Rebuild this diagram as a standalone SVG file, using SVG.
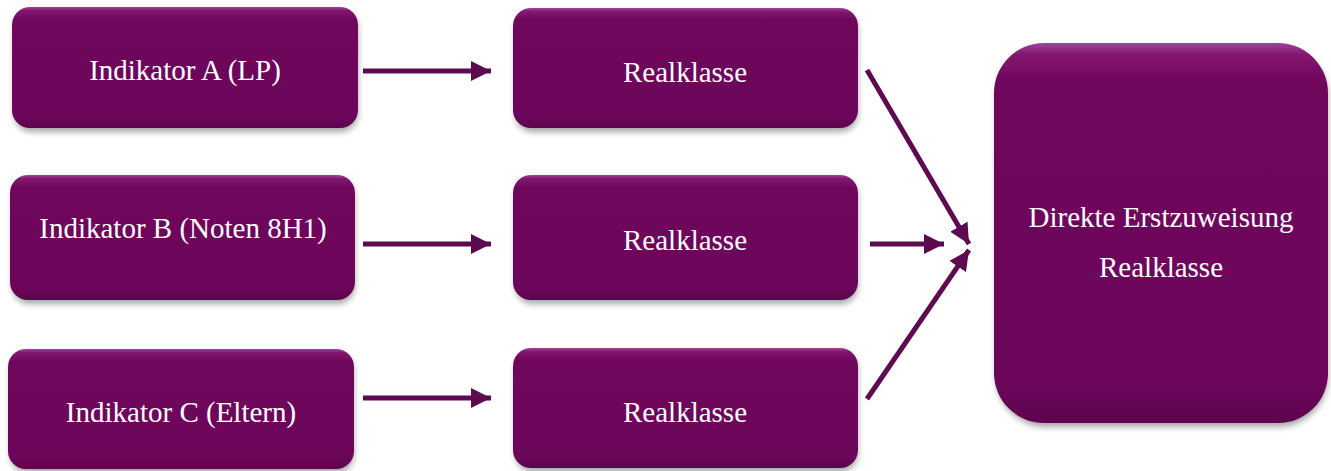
<svg xmlns="http://www.w3.org/2000/svg" width="1331" height="471" viewBox="0 0 1331 471">
<defs>
<linearGradient id="g" x1="0" y1="0" x2="0" y2="1">
<stop offset="0" stop-color="#a0449a"/>
<stop offset="0.03" stop-color="#84176f"/>
<stop offset="0.1" stop-color="#6f075d"/>
<stop offset="0.9" stop-color="#6c065a"/>
<stop offset="1" stop-color="#5c044d"/>
</linearGradient>
<filter id="sh" filterUnits="userSpaceOnUse" x="0" y="0" width="1331" height="471">
<feGaussianBlur stdDeviation="3"/>
</filter>
<marker id="ah" viewBox="0 0 10 10" refX="10" refY="5" markerWidth="4" markerHeight="4" markerUnits="strokeWidth" orient="auto">
<path d="M0,0 L10,5 L0,10 z" fill="#5e0a50"/>
</marker>
</defs>
<style>
.box{fill:url(#g)}
.s{fill:#000;opacity:0.35;filter:url(#sh)}
.t{font-family:"Liberation Serif","Times New Roman",serif;font-size:29px;fill:#ffffff;text-anchor:middle}
.c{stroke:#5e0a50;stroke-width:5;fill:none;marker-end:url(#ah)}
</style>
<g id="nodeA"><rect class="s" x="14" y="11" width="344" height="121" rx="18"/><rect class="box" x="12" y="7" width="346" height="121" rx="18"/><text class="t" x="185" y="80">Indikator A (LP)</text></g>
<g id="nodeB"><rect class="s" x="12" y="179" width="343" height="125" rx="18"/><rect class="box" x="10" y="175" width="345" height="125" rx="18"/><text class="t" x="183" y="238">Indikator B (Noten 8H1)</text></g>
<g id="nodeC"><rect class="s" x="10" y="353" width="344" height="120" rx="18"/><rect class="box" x="8" y="349" width="346" height="120" rx="18"/><text class="t" x="181" y="422">Indikator C (Eltern)</text></g>
<g id="nodeR1"><rect class="s" x="515" y="12" width="343" height="120" rx="18"/><rect class="box" x="513" y="8" width="345" height="120" rx="18"/><text class="t" x="685" y="82">Realklasse</text></g>
<g id="nodeR2"><rect class="s" x="515" y="179" width="343" height="125" rx="18"/><rect class="box" x="513" y="175" width="345" height="125" rx="18"/><text class="t" x="685" y="250">Realklasse</text></g>
<g id="nodeR3"><rect class="s" x="515" y="352" width="343" height="120" rx="18"/><rect class="box" x="513" y="348" width="345" height="120" rx="18"/><text class="t" x="685" y="422">Realklasse</text></g>
<g id="nodeD"><rect class="s" x="996" y="47" width="332" height="380" rx="50"/><rect class="box" x="994" y="43" width="334" height="380" rx="50"/><text class="t" x="1161" y="227">Direkte Erstzuweisung</text><text class="t" x="1161" y="277">Realklasse</text></g>
<g id="connectors">
<line class="c" x1="363" y1="71" x2="491" y2="71"/>
<line class="c" x1="363" y1="244" x2="491" y2="244"/>
<line class="c" x1="363" y1="398" x2="491" y2="398"/>
<line class="c" x1="870" y1="244" x2="944" y2="244"/>
<line class="c" x1="867" y1="70" x2="969" y2="244"/>
<line class="c" x1="867" y1="399" x2="969" y2="250"/>
</g>
</svg>
